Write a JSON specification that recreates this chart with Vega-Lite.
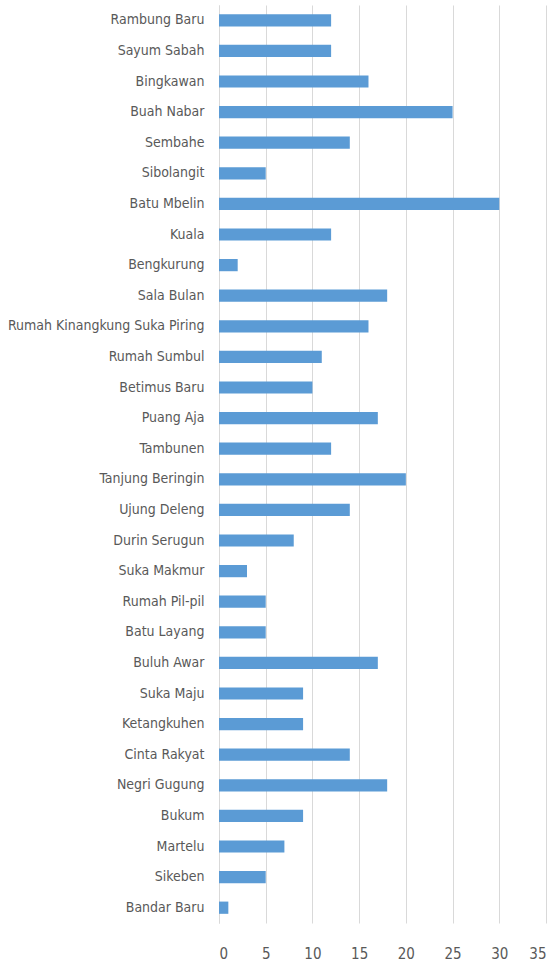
{
  "$schema": "https://vega.github.io/schema/vega-lite/v6.json",
  "width": 327,
  "height": 918,
  "padding": {"left": 0, "top": 5, "right": 9, "bottom": 0},
  "background": "white",
  "data": {"values": [
    {"desa": "Rambung Baru", "v": 12},
    {"desa": "Sayum Sabah", "v": 12},
    {"desa": "Bingkawan", "v": 16},
    {"desa": "Buah Nabar", "v": 25},
    {"desa": "Sembahe", "v": 14},
    {"desa": "Sibolangit", "v": 5},
    {"desa": "Batu Mbelin", "v": 30},
    {"desa": "Kuala", "v": 12},
    {"desa": "Bengkurung", "v": 2},
    {"desa": "Sala Bulan", "v": 18},
    {"desa": "Rumah Kinangkung Suka Piring", "v": 16},
    {"desa": "Rumah Sumbul", "v": 11},
    {"desa": "Betimus Baru", "v": 10},
    {"desa": "Puang Aja", "v": 17},
    {"desa": "Tambunen", "v": 12},
    {"desa": "Tanjung Beringin", "v": 20},
    {"desa": "Ujung Deleng", "v": 14},
    {"desa": "Durin Serugun", "v": 8},
    {"desa": "Suka Makmur", "v": 3},
    {"desa": "Rumah Pil-pil", "v": 5},
    {"desa": "Batu Layang", "v": 5},
    {"desa": "Buluh Awar", "v": 17},
    {"desa": "Suka Maju", "v": 9},
    {"desa": "Ketangkuhen", "v": 9},
    {"desa": "Cinta Rakyat", "v": 14},
    {"desa": "Negri Gugung", "v": 18},
    {"desa": "Bukum", "v": 9},
    {"desa": "Martelu", "v": 7},
    {"desa": "Sikeben", "v": 5},
    {"desa": "Bandar Baru", "v": 1}
  ]},
  "mark": {"type": "bar", "color": "#5b9bd5"},
  "encoding": {
    "y": {
      "field": "desa", "type": "nominal", "sort": null, "title": null,
      "scale": {"paddingInner": 0.6, "paddingOuter": 0.3},
      "axis": {
        "ticks": false, "domainColor": "#d9d9d9", "labelPadding": 15,
        "minExtent": 219, "maxExtent": 219,
        "labelFont": "DejaVu Sans Condensed", "labelFontSize": 14, "labelColor": "#595959",
        "labelLimit": 300
      }
    },
    "x": {
      "field": "v", "type": "quantitative", "title": null,
      "scale": {"domain": [0, 35], "nice": false},
      "axis": {
        "values": [0, 5, 10, 15, 20, 25, 30, 35], "domain": false, "ticks": false,
        "gridColor": "#d9d9d9", "labelPadding": 23,
        "labelFont": "DejaVu Sans Condensed", "labelFontSize": 15, "labelColor": "#595959"
      }
    }
  },
  "config": {"view": {"stroke": null}}
}
